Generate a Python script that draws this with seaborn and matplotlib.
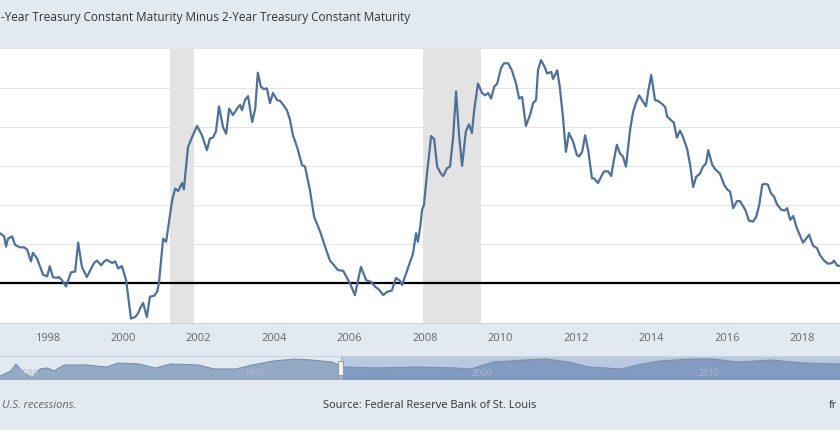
import matplotlib
matplotlib.use('Agg')
import matplotlib.pyplot as plt
import matplotlib.transforms as mtransforms
from matplotlib.patches import Rectangle
import numpy as np
import seaborn as sns

# 10y minus 2y treasury spread (decimal year, percent)
years = [
    1996.74, 1996.85, 1996.90, 1996.95, 1997.06, 1997.14, 1997.27, 1997.38, 1997.46, 1997.56,
    1997.61, 1997.72, 1997.88, 1997.99, 1998.06, 1998.14, 1998.25, 1998.30, 1998.38, 1998.49,
    1998.62, 1998.73, 1998.81, 1998.91, 1999.04, 1999.23, 1999.31, 1999.42, 1999.50, 1999.57,
    1999.71, 1999.79, 1999.87, 1999.97, 2000.08, 2000.21, 2000.32, 2000.40, 2000.45, 2000.53,
    2000.63, 2000.71, 2000.82, 2000.90, 2000.95, 2001.06, 2001.14, 2001.30, 2001.38, 2001.46,
    2001.56, 2001.61, 2001.72, 2001.83, 2001.96, 2002.09, 2002.22, 2002.30, 2002.38, 2002.46,
    2002.54, 2002.65, 2002.73, 2002.81, 2002.91, 2003.02, 2003.10, 2003.15, 2003.23, 2003.31,
    2003.42, 2003.50, 2003.57, 2003.65, 2003.73, 2003.81, 2003.89, 2003.97, 2004.08, 2004.16,
    2004.24, 2004.34, 2004.42, 2004.50, 2004.61, 2004.74, 2004.82, 2004.95, 2005.06, 2005.22,
    2005.35, 2005.48, 2005.59, 2005.69, 2005.83, 2006.01, 2006.14, 2006.30, 2006.44, 2006.57,
    2006.67, 2006.78, 2006.89, 2006.99, 2007.12, 2007.23, 2007.34, 2007.39, 2007.47, 2007.57,
    2007.68, 2007.76, 2007.81, 2007.87, 2007.92, 2007.97, 2008.05, 2008.16, 2008.24, 2008.32,
    2008.42, 2008.48, 2008.58, 2008.66, 2008.74, 2008.82, 2008.90, 2008.98, 2009.08, 2009.16,
    2009.24, 2009.30, 2009.40, 2009.51, 2009.59, 2009.67, 2009.75, 2009.83, 2009.91, 2010.01,
    2010.09, 2010.20, 2010.30, 2010.41, 2010.49, 2010.57, 2010.67, 2010.78, 2010.86, 2010.94,
    2010.99, 2011.07, 2011.18, 2011.23, 2011.34, 2011.39, 2011.50, 2011.57, 2011.65, 2011.73,
    2011.81, 2011.92, 2012.02, 2012.08, 2012.16, 2012.24, 2012.32, 2012.42, 2012.48, 2012.58,
    2012.66, 2012.74, 2012.85, 2012.93, 2013.00, 2013.08, 2013.16, 2013.24, 2013.32, 2013.43,
    2013.51, 2013.59, 2013.67, 2013.77, 2013.85, 2013.91, 2013.99, 2014.09, 2014.17, 2014.28,
    2014.36, 2014.41, 2014.52, 2014.59, 2014.67, 2014.75, 2014.83, 2014.94, 2015.02, 2015.10,
    2015.18, 2015.28, 2015.36, 2015.44, 2015.50, 2015.60, 2015.68, 2015.81, 2015.92, 2016.00,
    2016.08, 2016.16, 2016.26, 2016.34, 2016.48, 2016.58, 2016.69, 2016.77, 2016.85, 2016.93,
    2017.00, 2017.08, 2017.16, 2017.24, 2017.32, 2017.43, 2017.53, 2017.59, 2017.67, 2017.75,
    2017.85, 2018.01, 2018.09, 2018.17, 2018.28, 2018.38, 2018.46, 2018.57, 2018.67, 2018.78,
    2018.83, 2018.91, 2018.99,
]
spread = [
    0.64, 0.60, 0.47, 0.57, 0.60, 0.49, 0.46, 0.46, 0.43, 0.28,
    0.39, 0.32, 0.11, 0.09, 0.22, 0.08, 0.07, 0.08, 0.04, -0.04,
    0.14, 0.15, 0.52, 0.21, 0.08, 0.26, 0.29, 0.23, 0.28, 0.30,
    0.26, 0.28, 0.19, 0.22, 0.04, -0.45, -0.43, -0.38, -0.32, -0.25,
    -0.43, -0.17, -0.16, -0.11, 0.00, 0.57, 0.53, 1.06, 1.21, 1.18,
    1.28, 1.20, 1.74, 1.87, 2.01, 1.89, 1.70, 1.85, 1.86, 1.94,
    2.26, 1.99, 1.91, 2.23, 2.15, 2.23, 2.28, 2.21, 2.34, 2.39,
    2.06, 2.23, 2.69, 2.51, 2.48, 2.49, 2.30, 2.43, 2.34, 2.33,
    2.28, 2.21, 2.09, 1.89, 1.74, 1.51, 1.49, 1.19, 0.85, 0.66,
    0.47, 0.29, 0.23, 0.17, 0.16, 0.00, -0.15, 0.21, 0.04, 0.02,
    -0.04, -0.08, -0.15, -0.11, -0.09, 0.07, 0.03, -0.02, 0.09, 0.23,
    0.38, 0.64, 0.53, 0.72, 0.94, 1.00, 1.40, 1.88, 1.84, 1.49,
    1.40, 1.37, 1.47, 1.49, 1.85, 2.45, 1.89, 1.50, 1.94, 2.03,
    1.92, 2.21, 2.55, 2.43, 2.40, 2.43, 2.36, 2.51, 2.55, 2.75,
    2.81, 2.81, 2.72, 2.55, 2.36, 2.38, 2.01, 2.15, 2.30, 2.34,
    2.72, 2.85, 2.75, 2.68, 2.70, 2.61, 2.72, 2.50, 2.13, 1.68,
    1.92, 1.81, 1.64, 1.62, 1.68, 1.89, 1.70, 1.34, 1.34, 1.28,
    1.36, 1.43, 1.43, 1.37, 1.57, 1.77, 1.66, 1.62, 1.49, 1.96,
    2.19, 2.31, 2.40, 2.32, 2.26, 2.45, 2.66, 2.34, 2.33, 2.29,
    2.25, 2.13, 2.08, 2.05, 1.86, 1.95, 1.87, 1.72, 1.51, 1.23,
    1.36, 1.40, 1.49, 1.53, 1.70, 1.52, 1.46, 1.40, 1.26, 1.20,
    1.17, 0.96, 1.05, 1.05, 0.94, 0.80, 0.79, 0.85, 1.00, 1.26,
    1.27, 1.26, 1.15, 1.11, 1.01, 0.94, 0.93, 0.96, 0.81, 0.86,
    0.70, 0.52, 0.57, 0.62, 0.48, 0.45, 0.36, 0.29, 0.25, 0.26,
    0.29, 0.23, 0.22,
]

recession_starts = [2001.25, 2007.95]
recession_ends = [2001.88, 2009.48]

x_ticks = list(range(1998, 2019, 2))
y_grid = [-0.5, 0.0, 0.5, 1.0, 1.5, 2.0, 2.5, 3.0]

# navigator (overview strip) shape, read roughly
nav_years = [
    1979.40, 1979.88, 1980.10, 1980.46, 1980.81, 1981.16, 1981.51, 1981.78, 1982.22, 1983.19,
    1984.11, 1984.60, 1985.52, 1986.23, 1986.93, 1988.12, 1988.83, 1989.80, 1990.50, 1991.43,
    1992.40, 1993.10, 1994.03, 1994.51, 1995.92, 1997.81, 1999.44, 2000.15, 2001.12, 2002.53,
    2003.45, 2004.42, 2005.35, 2006.76, 2007.46, 2008.43, 2009.84, 2010.77, 2011.96, 2013.36,
    2014.77, 2016.40,
]
nav_values = [
    -2.76, -1.11, 1.20, -1.77, -3.42, -0.45, -0.12, -1.11, 0.87, 0.87,
    0.21, 1.53, 1.20, -0.12, 1.20, 0.87, -0.45, -0.45, 0.87, 2.19,
    2.85, 2.52, 1.86, 0.21, -0.12, 0.21, -0.12, -0.45, 1.86, 2.52,
    2.85, 1.86, 0.21, -0.45, 0.87, 2.19, 2.85, 2.85, 1.86, 2.52,
    1.53, 1.20,
]
nav_labels = [1980, 1990, 2000, 2010]
nav_selected_start = 1994.4

bg = '#e1e9f1'
line_color = '#4d7198'

sns.set_theme(style='white')
plt.rcParams['font.family'] = ['Open Sans', 'DejaVu Sans']

fig = plt.figure(figsize=(8.4, 4.3), dpi=100, facecolor=bg)

# main chart
ax = fig.add_axes([0.0, 1 - 322.5 / 430, 1.0, (322.5 - 48.4) / 430])
ax.set_facecolor('white')
for s, e in zip(recession_starts, recession_ends):
    ax.axvspan(s, e, color='#e3e3e3', lw=0, zorder=0)
for g in y_grid:
    ax.axhline(g, color='#e6e6e6', lw=0.8, zorder=0.5)
ax.axhline(0, color='black', lw=1.6, zorder=1)
sns.lineplot(x=years, y=spread, ax=ax, color=line_color, lw=1.6, zorder=2)

ax.set_xlim(years[0], years[-1])
ax.set_ylim(-0.5, 3.0)
ax.set_yticks([])
ax.set_xticks(x_ticks)
ax.set_xticklabels([str(t) for t in x_ticks])
ax.tick_params(axis='x', colors='#ccd6eb', length=5, width=0.8, pad=2.5,
               labelcolor='#666666', labelsize=8)
for side in ['top', 'left', 'right']:
    ax.spines[side].set_visible(False)
ax.spines['bottom'].set_color('#ccd6eb')
ax.spines['bottom'].set_linewidth(0.8)
ax.set_xlabel('')
ax.set_ylabel('')

# navigator strip
nav = fig.add_axes([0.0, 1 - 380 / 430, 1.0, 24 / 430])
nav.set_facecolor(bg)
nav_lo, nav_hi = -4.1, 3.85
nav.fill_between(nav_years, nav_values, nav_lo, color='#93a9c4', lw=0)
sns.lineplot(x=nav_years, y=nav_values, ax=nav, color='#7890ae', lw=0.8)
nav.axvspan(nav_selected_start, nav_years[-1], color='#5a7fb8', alpha=0.3, lw=0)
nav.axvline(nav_selected_start, color='#b0bccb', lw=0.8)
trans = mtransforms.blended_transform_factory(nav.transData, nav.transAxes)
nav.add_patch(Rectangle((nav_selected_start - 0.13, 0.2), 0.26, 0.6, transform=trans,
                        facecolor='#f2f2f2', edgecolor='#999999', lw=0.7, zorder=5))
for yr in nav_labels:
    nav.text(yr + 0.15, 0.28, str(yr), transform=trans, fontsize=6.5,
             color='#a9b8cb', ha='left', va='center')
nav.set_xlim(nav_years[0], nav_years[-1])
nav.set_ylim(nav_lo, nav_hi)
nav.set_xticks([])
nav.set_yticks([])
nav.set_xlabel('')
nav.set_ylabel('')
for side in ['bottom', 'left', 'right']:
    nav.spines[side].set_visible(False)
nav.spines['top'].set_color('#c9d3df')
nav.spines['top'].set_linewidth(0.8)

# texts (the reference picture is cropped at both sides)
fig.text(0.001, 1 - 18 / 430,
         '-Year Treasury Constant Maturity Minus 2-Year Treasury Constant Maturity',
         ha='left', va='center', fontsize=8.5, color='#333333')
fig.text(0.002, 1 - 406 / 430, 'U.S. recessions.', ha='left', va='center',
         fontsize=8, style='italic', color='#666666')
fig.text(430 / 840, 1 - 406 / 430, 'Source: Federal Reserve Bank of St. Louis',
         ha='center', va='center', fontsize=8, color='#333333')
fig.text(829 / 840, 1 - 406 / 430, 'fr', ha='left', va='center',
         fontsize=8, color='#333333')

plt.savefig('out.png', dpi=100, facecolor=bg)
